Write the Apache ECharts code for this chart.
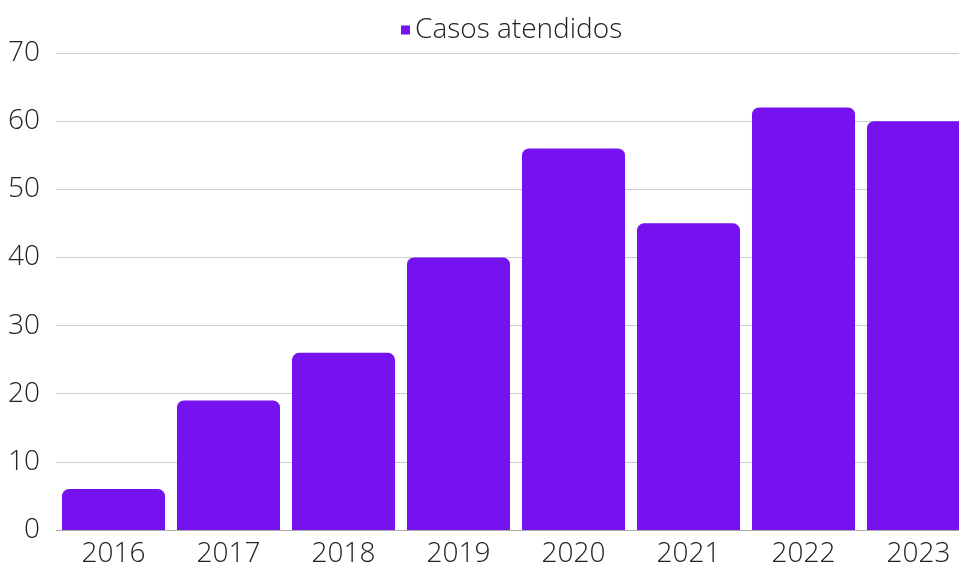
<!DOCTYPE html>
<html>
<head>
<meta charset="utf-8">
<script src="https://cdn.jsdelivr.net/npm/echarts@6/dist/echarts.min.js"></script>
<style>
  html, body { margin: 0; padding: 0; background: #fff; }
  #chart { width: 959px; height: 570px; }
</style>
</head>
<body>
<div id="chart"></div>
<script>
const years = ['2016', '2017', '2018', '2019', '2020', '2021', '2022', '2023']
const casos = [6, 19, 26, 40, 56, 45, 62, 60]
const seriesName = 'Casos atendidos'

const chart = echarts.init(document.getElementById('chart'))
chart.setOption({
  animation: false,
  textStyle: { fontFamily: 'Open Sans', fontWeight: 300 },
  legend: {
    top: 11,
    left: 396,
    icon: 'rect',
    itemWidth: 9,
    itemHeight: 9,
    itemGap: 8,
    textStyle: { fontSize: 28, color: '#222', fontWeight: 300 },
    data: [seriesName]
  },
  grid: {
    left: 56,
    top: 53,
    width: 920,
    bottom: 40,
    outerBoundsMode: 'none',
    containLabel: false
  },
  xAxis: {
    type: 'category',
    data: years,
    axisTick: { show: false },
    axisLine: { lineStyle: { color: '#aaa', width: 1 } },
    axisLabel: { fontSize: 28, color: '#222', margin: 10, fontWeight: 300 }
  },
  yAxis: {
    type: 'value',
    min: 0,
    max: 70,
    interval: 10,
    axisLabel: { fontSize: 28, color: '#222', margin: 16, fontWeight: 300 },
    splitLine: { lineStyle: { color: '#ccc', width: 1 } }
  },
  series: [
    {
      name: seriesName,
      type: 'bar',
      data: casos,
      barCategoryGap: '10.4%',
      itemStyle: { color: '#7611F0', borderRadius: [7, 7, 0, 0] }
    }
  ]
})
</script>
</body>
</html>
